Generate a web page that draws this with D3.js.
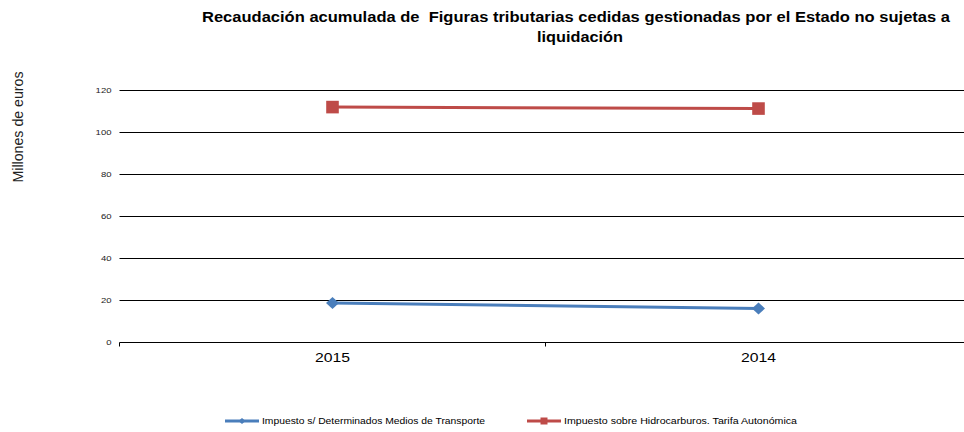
<!DOCTYPE html>
<html>
<head>
<meta charset="utf-8">
<script src="https://cdn.jsdelivr.net/npm/d3@7"></script>
<style>
  body { margin: 0; background: #fff; }
  svg { display: block; font-family: "Liberation Sans", Arial, sans-serif; }
</style>
</head>
<body>
<svg id="chart" width="964" height="432"></svg>
<script>
// data
const years = ['2015', '2014'];
const transporte = [18.8, 16.2];
const hidrocarburos = [112.1, 111.4];
const yTicks = [0, 20, 40, 60, 80, 100, 120];
const seriesNames = [
  'Impuesto s/ Determinados Medios de Transporte',
  'Impuesto sobre Hidrocarburos. Tarifa Autonómica'
];

const svg = d3.select('#chart');
const margin = { top: 90.5, left: 119.5 };
const plotW = 852, plotH = 252;

const x = d3.scaleBand().domain(years).range([0, plotW]);
const y = d3.scaleLinear().domain([0, 120]).range([plotH, 0]);

const g = svg.append('g').attr('transform', `translate(${margin.left},${margin.top})`);

// the source picture is stretched sideways, so text gets a wider textLength
const diamond = (w, h) => `M0,${-h}L${w},0L0,${h}L${-w},0Z`;
const square = s => `M${-s},${-s}H${s}V${s}H${-s}Z`;

// gridlines
g.selectAll('.grid').data(yTicks.slice(1)).enter().append('line')
  .attr('x1', 0).attr('x2', plotW)
  .attr('y1', d => y(d)).attr('y2', d => y(d))
  .attr('stroke', '#000').attr('stroke-width', 1);

// y tick labels
g.selectAll('.ylab').data(yTicks).enter().append('text')
  .attr('x', -8).attr('y', d => y(d)).attr('dy', '0.35em')
  .attr('text-anchor', 'end').attr('font-size', 7.5).attr('fill', '#222')
  .attr('textLength', d => String(d).length * 5.3)
  .attr('lengthAdjust', 'spacingAndGlyphs')
  .text(d => d);

// x axis
const xAxis = g.append('g').attr('transform', `translate(0,${plotH})`)
  .call(d3.axisBottom(x).tickSize(0).tickPadding(11));
xAxis.select('.domain').remove();
xAxis.selectAll('text').attr('font-size', 12.5).attr('fill', '#000')
  .attr('font-family', '"Liberation Sans", Arial, sans-serif')
  .attr('textLength', 35).attr('lengthAdjust', 'spacingAndGlyphs');
g.append('line').attr('x1', 0).attr('x2', plotW).attr('y1', plotH).attr('y2', plotH)
  .attr('stroke', '#000');
// category boundary ticks
g.selectAll('.xt').data(years).enter().append('line')
  .attr('x1', d => x(d)).attr('x2', d => x(d))
  .attr('y1', plotH).attr('y2', plotH + 4).attr('stroke', '#000');

// lines
const cx = d => x(d) + x.bandwidth() / 2;
const line = d3.line().x((d, i) => cx(years[i])).y(d => y(d));
const series = [
  { vals: transporte, color: '#4a7ebb', marker: 'diamond' },
  { vals: hidrocarburos, color: '#be4b48', marker: 'square' }
];

series.forEach(s => {
  g.append('path').datum(s.vals)
    .attr('fill', 'none').attr('stroke', s.color).attr('stroke-width', 3)
    .attr('d', line);
  g.selectAll(null).data(s.vals).enter().append('path')
    .attr('transform', (d, i) => `translate(${cx(years[i])},${y(d)})`)
    .attr('d', s.marker === 'square' ? square(6.3) : diamond(6.5, 6))
    .attr('fill', s.color);
});

// title
svg.append('text').attr('x', 576).attr('y', 22)
  .attr('text-anchor', 'middle').attr('font-size', 15).attr('font-weight', 'bold')
  .attr('xml:space', 'preserve')
  .attr('textLength', 748).attr('lengthAdjust', 'spacingAndGlyphs')
  .text('Recaudación acumulada de  Figuras tributarias cedidas gestionadas por el Estado no sujetas a');
svg.append('text').attr('x', 580).attr('y', 42)
  .attr('text-anchor', 'middle').attr('font-size', 15).attr('font-weight', 'bold')
  .attr('textLength', 86).attr('lengthAdjust', 'spacingAndGlyphs')
  .text('liquidación');

// y axis title
svg.append('text')
  .attr('transform', 'translate(23,127) rotate(-90)')
  .attr('text-anchor', 'middle').attr('font-size', 14).attr('fill', '#222')
  .attr('textLength', 111).attr('lengthAdjust', 'spacingAndGlyphs')
  .text('Millones de euros');

// legend
const legendX = [225, 527];
const legendLen = [223, 233];
series.forEach((s, i) => {
  const lg = svg.append('g').attr('transform', `translate(${legendX[i]},421)`);
  lg.append('line').attr('x1', 0).attr('x2', 34).attr('y1', 0).attr('y2', 0)
    .attr('stroke', s.color).attr('stroke-width', 3);
  lg.append('path').attr('transform', 'translate(17,0)')
    .attr('d', s.marker === 'square' ? square(3.5) : diamond(3.5, 3))
    .attr('fill', s.color);
  lg.append('text').attr('x', 37).attr('y', 0).attr('dy', '0.35em')
    .attr('font-size', 9.5).attr('fill', '#000')
    .attr('textLength', legendLen[i]).attr('lengthAdjust', 'spacingAndGlyphs')
    .text(seriesNames[i]);
});
</script>
</body>
</html>
